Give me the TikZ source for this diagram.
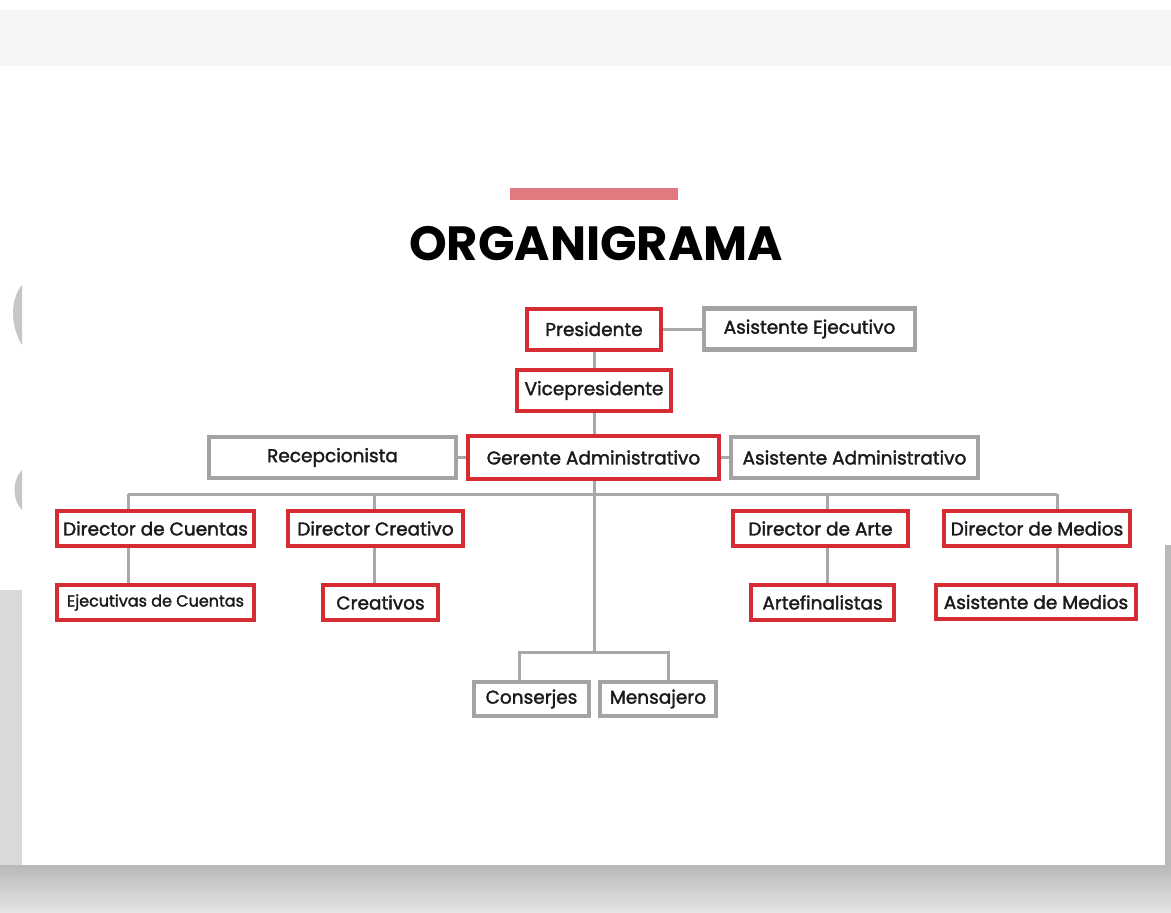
\documentclass[tikz,border=0pt]{standalone}
\usepackage{fontspec}
\setmainfont{Poppins}
\newfontfamily\boxfont{Poppins}[FakeBold=1.8]
\usetikzlibrary{backgrounds,calc}
\definecolor{boxred}{HTML}{D52B32}
\definecolor{boxgray}{HTML}{A3A3A3}
\definecolor{linegray}{HTML}{A8A8A8}
\definecolor{barpink}{HTML}{E07A80}
\definecolor{txt}{HTML}{1A1A1A}
\tikzset{
  redbox/.style={draw=boxred, line width=4pt, fill=white, inner sep=0pt, font=\boxfont\fontsize{18.5}{20}\selectfont, text=txt},
  graybox/.style={draw=boxgray, line width=4.5pt, fill=white, inner sep=0pt, font=\boxfont\fontsize{18.5}{20}\selectfont, text=txt},
  conn/.style={draw=linegray, line width=3pt},
}
\newcommand{\bx}[7]{%
  \node[#1, minimum width=#5pt-4pt, minimum height=#6pt-4pt] (#2) at (#3,#4) {#7};}
\begin{document}
\begin{tikzpicture}[x=1pt,y=-1pt]
\useasboundingbox (0,0) rectangle (1171,913);
\begin{scope}[on background layer]
% background
\fill[white] (0,0) rectangle (1171,913);
\fill[gray!7] (0,10) rectangle (1171,66);
\shade[top color=gray!55, bottom color=gray!20] (0,865) rectangle (1171,913);
\fill[gray!30] (0,590) rectangle (22,865);
\fill[gray!55] (1165,545) rectangle (1171,865);
\fill[gray!45] (22,285) .. controls (10,300) and (10,325) .. (22,345) -- cycle;
\fill[gray!45] (22,470) .. controls (12,480) and (12,500) .. (22,510) -- cycle;
\end{scope}
% bar and title
\fill[barpink] (510,188) rectangle (678,200);
\node[font=\fontsize{48}{50}\selectfont\bfseries, text=black, anchor=base] (title) at (596,260) {ORGANIGRAMA};
% boxes
\bx{redbox}{pres}{594}{329}{138}{45}{Presidente}
\bx{graybox}{asej}{809.5}{329}{215}{45}{Asistente Ejecutivo}
\bx{redbox}{vp}{594}{390.5}{158}{45}{Vicepresidente}
\bx{redbox}{ger}{593.5}{457.5}{255}{47}{Gerente Administrativo}
\bx{graybox}{rec}{332.5}{457.5}{251}{45}{Recepcionista}
\bx{graybox}{asad}{854.5}{457.5}{251}{45}{Asistente Administrativo}
\bx{redbox}{dc}{155.5}{528.5}{201}{39}{Director de Cuentas}
\bx{redbox}{dcr}{375.5}{528.5}{179}{39}{Director Creativo}
\bx{redbox}{da}{820.5}{528.5}{179}{39}{Director de Arte}
\bx{redbox}{dm}{1037}{528.5}{190}{39}{Director de Medios}
\node[redbox, minimum width=197pt, minimum height=35pt, font=\boxfont\fontsize{16}{18}\selectfont] (ej) at (155.5,602.5) {Ejecutivas de Cuentas};
\bx{redbox}{cre}{380.5}{602.5}{119}{39}{Creativos}
\bx{redbox}{art}{822.5}{602.5}{147}{39}{Artefinalistas}
\bx{redbox}{asm}{1036}{602}{204}{38}{Asistente de Medios}
\bx{graybox}{cons}{531.5}{699}{119}{38}{Conserjes}
\bx{graybox}{mens}{658}{699}{120}{38}{Mensajero}
% connectors
\coordinate (b1) at (128,494);
\coordinate (b2) at (374,494);
\coordinate (b3) at (827,494);
\coordinate (b4) at (1057,494);
\coordinate (hub) at (594,652);
\coordinate (c1) at (519,652);
\coordinate (c2) at (668,652);
\begin{scope}[on background layer]
\draw[conn] (pres.east) -- (pres.east -| asej.west);
\draw[conn] (pres.south) -- (vp.north);
\draw[conn] (vp.south) -- (ger.north -| vp.south);
\draw[conn] (rec.east) -- (rec.east -| ger.west);
\draw[conn] (ger.east |- asad.west) -- (asad.west);
\draw[conn] (ger.south -| hub) -- (hub);
\draw[conn] (b1) -- (b4);
\draw[conn] (b1) -- (b1 |- dc.north);
\draw[conn] (b2) -- (b2 |- dcr.north);
\draw[conn] (b3) -- (b3 |- da.north);
\draw[conn] (b4) -- (b4 |- dm.north);
\draw[conn] (b1 |- dc.south) -- (b1 |- ej.north);
\draw[conn] (b2 |- dcr.south) -- (b2 |- cre.north);
\draw[conn] (b3 |- da.south) -- (b3 |- art.north);
\draw[conn] (b4 |- dm.south) -- (b4 |- asm.north);
\draw[conn] (c1 |- cons.north) -- (c1) -- (c2) -- (c2 |- mens.north);
\end{scope}
\end{tikzpicture}
\end{document}
